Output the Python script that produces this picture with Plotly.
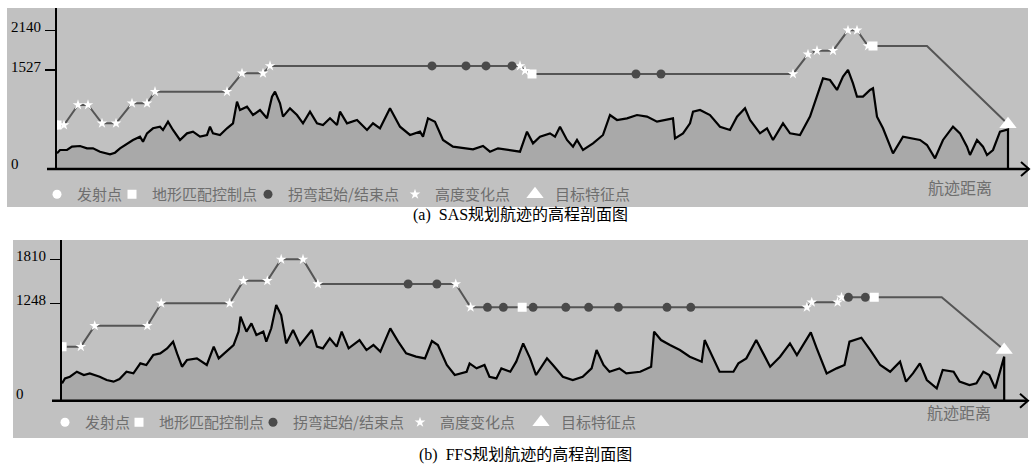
import plotly.graph_objects as go

W, H = 1033, 468

# ---------------- Panel (a): SAS ----------------
terrain_a_d = [0.0, 0.3, 1.0, 1.5, 2.3, 3.0, 3.6, 4.3, 5.3, 5.8, 6.3, 7.0, 7.6, 8.3, 8.6, 9.0, 9.6, 10.3, 10.6, 11.1,
               11.6, 12.3, 13.0, 13.6, 14.3, 15.0, 15.3, 15.6, 16.3, 17.0, 17.6, 18.0, 18.3, 19.0, 19.6, 20.3, 21.0,
               21.5, 21.8, 22.3, 22.6, 23.3, 24.0, 24.6, 25.3, 26.0, 26.6, 27.3, 28.0, 28.3, 29.0, 30.0, 31.0, 31.6,
               32.3, 33.3, 34.3, 35.3, 36.3, 36.6, 37.1, 37.8, 38.6, 39.6, 40.6, 41.6, 42.6, 43.3, 44.1, 45.0, 46.3,
               47.0, 47.6, 48.3, 49.3, 49.8, 50.3, 51.0, 51.6, 52.0, 52.6, 53.6, 54.6, 55.3, 56.0, 57.0, 58.0, 59.0,
               60.0, 61.6, 61.8, 62.6, 63.3, 63.6, 64.3, 65.3, 66.3, 67.3, 68.0, 68.8, 69.3, 70.3, 71.0, 71.6, 72.6,
               73.3, 74.3, 75.3, 76.0, 76.6, 77.3, 78.0, 78.6, 79.1, 79.6, 80.0, 80.6, 81.3, 81.6, 82.0, 82.6, 83.6,
               84.6, 85.6, 86.3, 87.0, 87.8, 88.6, 89.6, 90.3, 91.0, 91.3, 92.0, 92.6, 93.0, 93.6, 94.3, 95.1, 95.1]
terrain_a_e = [242, 293, 293, 345, 355, 319, 319, 267, 226, 252, 319, 396, 448, 499, 422, 550, 628, 653, 602, 730,
               602, 448, 550, 576, 499, 525, 653, 550, 525, 628, 705, 1039, 910, 962, 833, 910, 782,
               1116, 1193, 1013, 808, 936, 833, 705, 885, 705, 679, 782, 679, 885, 705, 756, 602, 705,
               628, 936, 653, 525, 576, 499, 782, 730, 448, 345, 319, 303, 355, 267, 319, 293, 267,
               576, 396, 499, 550, 499, 653, 448, 345, 448, 293, 396, 525, 833, 756, 782, 833, 808,
               730, 782, 473, 550, 705, 885, 910, 833, 653, 602, 808, 936, 756, 550, 628, 448, 705,
               550, 525, 808, 1116, 1399, 1373, 1219, 1425, 1528, 1322, 1116, 1116, 1219, 1245, 808, 628, 242,
               499, 473, 448, 370, 165, 448, 653, 550, 345, 216, 448, 345, 216, 293, 576, 610, 0]

path_a_d = [0.0, 0.7, 2.1, 3.1, 4.5, 5.9, 7.5, 9.0, 9.8, 17.0, 18.5, 20.6, 21.3, 46.3, 46.8, 47.5, 73.6, 75.1,
            76.0, 77.6, 79.1, 80.0, 81.1, 87.0, 95.1]
path_a_e = [679, 679, 988, 988, 705, 705, 1013, 1013, 1193, 1193, 1476, 1476, 1590, 1590, 1517, 1466, 1466, 1770,
            1826, 1826, 2140, 2140, 1898, 1898, 690]

launch_a_d, launch_a_e = [0.0], [679]
ctrl_a_d, ctrl_a_e = [0.0, 47.5, 81.6], [679, 1466, 1898]
turn_a_d = [37.5, 40.9, 42.9, 45.5, 57.9, 60.4]
turn_a_e = [1590, 1590, 1590, 1590, 1466, 1466]
alt_a_d = [0.7, 2.1, 3.1, 4.5, 5.9, 7.5, 9.0, 9.8, 17.0, 18.5, 20.6, 21.3, 46.3, 46.8, 73.6, 75.1, 76.0, 77.6,
           79.1, 80.0, 81.1]
alt_a_e = [679, 988, 988, 705, 705, 1013, 1013, 1193, 1193, 1476, 1476, 1590, 1590, 1517, 1466, 1770, 1826, 1826,
           2140, 2140, 1898]
target_a_d, target_a_e = [95.1], [690]
ticks_a = [0, 1527, 2140]

# ---------------- Panel (b): FFS ----------------
terrain_b_d = [0.0, 0.3, 0.8, 1.5, 2.2, 2.8, 3.8, 4.5, 5.2, 5.8, 6.5, 7.2, 7.9, 8.5, 9.2, 9.9, 10.6, 11.2, 11.6,
               12.1, 12.6, 13.6, 14.6, 15.3, 15.8, 16.6, 17.3, 17.8, 18.0, 18.6, 19.1, 19.6, 20.3, 20.6, 21.1, 21.6,
               22.1, 22.6, 23.3, 24.0, 24.5, 25.2, 25.7, 26.3, 27.0, 27.7, 28.2, 28.9, 30.0, 30.7, 31.4, 32.1, 33.1,
               33.9, 34.7, 35.7, 36.6, 37.3, 37.9, 38.8, 39.6, 40.8, 41.1, 41.8, 42.6, 43.1, 43.8, 44.3, 45.2, 45.8,
               46.5, 47.2, 47.8, 48.9, 49.5, 50.5, 51.5, 52.5, 53.4, 53.9, 54.6, 55.2, 56.2, 56.9, 58.3, 59.4, 59.7,
               60.4, 61.3, 62.3, 63.3, 64.0, 64.5, 64.8, 65.5, 66.3, 67.7, 68.2, 69.0, 70.0, 70.7, 71.4, 72.4, 73.4,
               74.1, 74.7, 75.5, 76.1, 77.1, 78.1, 78.9, 79.4, 80.6, 81.5, 82.5, 83.5, 84.5, 85.1, 85.8, 86.5, 87.2,
               88.2, 88.8, 89.9, 90.5, 91.5, 92.2, 92.9, 93.5, 94.1, 94.6, 95.0, 95.0]
terrain_b_e = [222, 286, 307, 371, 329, 350, 307, 265, 244, 278, 371, 350, 478, 457, 585, 606, 670, 756, 606,
               435, 521, 542, 457, 692, 542, 628, 713, 884, 1076, 884, 990, 841, 884, 756, 927, 1225,
               1097, 734, 905, 713, 798, 905, 692, 670, 798, 692, 884, 670, 777, 649, 713, 628, 926,
               756, 606, 564, 542, 764, 713, 457, 329, 371, 478, 414, 457, 307, 286, 414, 371, 500,
               734, 542, 329, 542, 457, 307, 265, 307, 414, 649, 457, 371, 414, 350, 371, 435, 884,
               777, 713, 649, 564, 521, 500, 777, 585, 371, 371, 478, 542, 777, 606, 435, 564, 734,
               585, 713, 875, 670, 350, 414, 457, 756, 807, 649, 457, 371, 500, 244, 350, 478, 265,
               158, 393, 371, 244, 201, 222, 371, 329, 158, 371, 564, 0]

path_b_d = [0.0, 1.9, 3.3, 8.6, 10.0, 16.9, 18.3, 20.7, 22.1, 24.3, 25.8, 39.7, 41.2, 75.1, 75.6, 78.2, 78.6,
            88.7, 95.0]
path_b_e = [692, 692, 960, 960, 1248, 1248, 1536, 1536, 1810, 1810, 1494, 1494, 1196, 1196, 1260, 1260, 1324,
            1324, 650]

launch_b_d, launch_b_e = [0.0], [692]
ctrl_b_d, ctrl_b_e = [0.0, 46.4, 81.9], [692, 1196, 1324]
turn_b_d = [34.9, 37.8, 42.9, 44.5, 47.5, 50.8, 53.1, 56.1, 61.0, 63.4, 79.3, 81.0]
turn_b_e = [1494, 1494, 1196, 1196, 1196, 1196, 1196, 1196, 1196, 1196, 1324, 1324]
alt_b_d = [1.9, 3.3, 8.6, 10.0, 16.9, 18.3, 20.7, 22.1, 24.3, 25.8, 39.7, 41.2, 75.1, 75.6, 78.2, 78.6]
alt_b_e = [692, 960, 960, 1248, 1248, 1536, 1536, 1810, 1810, 1494, 1494, 1196, 1196, 1260, 1260, 1324]
target_b_d, target_b_e = [95.0], [650]
ticks_b = [0, 1248, 1810]

legend_names = ["发射点", "地形匹配控制点", "拐弯起始/结束点", "高度变化点", "目标特征点"]
captions = ["(a)  SAS规划航迹的高程剖面图", "(b)  FFS规划航迹的高程剖面图"]
xlabel = "航迹距离"

# ---------------- styling ----------------
BG = "#c1c1c1"
FILL = "#a9a9a9"
PATH = "#555555"
DOT = "#4a4a4a"
LEG_TXT = "#6e6e6e"
CJK = "Noto Sans CJK SC"
SERIF = "Liberation Serif, Noto Sans CJK SC"


def px(x):
    return x / W


def py(y):
    return 1 - y / H


fig = go.Figure()


def add_panel(xa, ya, leg, t_d, t_e, p_d, p_e, l_d, l_e, c_d, c_e, tu_d, tu_e, al_d, al_e, tg_d, tg_e, widths):
    fig.add_trace(go.Scatter(x=t_d, y=t_e, mode="lines", fill="tozeroy", fillcolor=FILL,
                             line=dict(color="black", width=2.2), showlegend=False, hoverinfo="skip",
                             xaxis=xa, yaxis=ya))
    fig.add_trace(go.Scatter(x=p_d, y=p_e, mode="lines", line=dict(color=PATH, width=2),
                             showlegend=False, xaxis=xa, yaxis=ya))
    fig.add_trace(go.Scatter(x=al_d, y=al_e, mode="markers", name=legend_names[3], legend=leg, legendrank=4,
                             legendwidth=widths[3],
                             marker=dict(symbol="star", size=8, color="white", line=dict(width=0)),
                             xaxis=xa, yaxis=ya))
    fig.add_trace(go.Scatter(x=tu_d, y=tu_e, mode="markers", name=legend_names[2], legend=leg, legendrank=3,
                             legendwidth=widths[2],
                             marker=dict(symbol="circle", size=9, color=DOT, line=dict(width=0)),
                             xaxis=xa, yaxis=ya))
    fig.add_trace(go.Scatter(x=c_d, y=c_e, mode="markers", name=legend_names[1], legend=leg, legendrank=2,
                             legendwidth=widths[1],
                             marker=dict(symbol="square", size=9, color="white", line=dict(width=0)),
                             xaxis=xa, yaxis=ya))
    fig.add_trace(go.Scatter(x=l_d, y=l_e, mode="markers", name=legend_names[0], legend=leg, legendrank=1,
                             legendwidth=widths[0],
                             marker=dict(symbol="circle", size=9, color="white", line=dict(width=0)),
                             xaxis=xa, yaxis=ya))
    fig.add_trace(go.Scatter(x=tg_d, y=tg_e, mode="markers", name=legend_names[4], legend=leg, legendrank=5,
                             marker=dict(symbol="triangle-up", size=15, color="white", line=dict(width=0)),
                             xaxis=xa, yaxis=ya))


add_panel("x", "y", "legend", terrain_a_d, terrain_a_e, path_a_d, path_a_e, launch_a_d, launch_a_e,
          ctrl_a_d, ctrl_a_e, turn_a_d, turn_a_e, alt_a_d, alt_a_e, target_a_d, target_a_e, [30, 91, 102, 75])
add_panel("x2", "y2", "legend2", terrain_b_d, terrain_b_e, path_b_d, path_b_e, launch_b_d, launch_b_e,
          ctrl_b_d, ctrl_b_e, turn_b_d, turn_b_e, alt_b_d, alt_b_e, target_b_d, target_b_e, [29, 89, 102, 76])

axis_common = dict(showgrid=False, zeroline=False, fixedrange=True)
yaxis_common = dict(showgrid=False, zeroline=False, showline=True, linecolor="black", linewidth=2.5,
                    ticks="outside", ticklen=10, tickwidth=1.5, tickcolor="black", showticklabels=False,
                    fixedrange=True)

fig.update_layout(
    width=W, height=H,
    margin=dict(l=0, r=0, t=0, b=0),
    paper_bgcolor="white", plot_bgcolor="rgba(0,0,0,0)",
    xaxis=dict(domain=[px(57), px(1027)], range=[0, 97.0], visible=False, anchor="y", **axis_common),
    yaxis=dict(domain=[py(169), py(8)], range=[0, 2484], anchor="x",
               tickvals=ticks_a[1:], **yaxis_common),
    xaxis2=dict(domain=[px(62), px(1027)], range=[0, 97.3], visible=False, anchor="y2", **axis_common),
    yaxis2=dict(domain=[py(400.7), py(240)], range=[0, 2058], anchor="x2",
                tickvals=ticks_b[1:], **yaxis_common),
    legend=dict(orientation="h", x=px(37), y=py(178), xanchor="left", yanchor="top",
                bgcolor="rgba(0,0,0,0)", font=dict(family=CJK, size=15, color=LEG_TXT),
                itemwidth=30, traceorder="normal"),
    legend2=dict(orientation="h", x=px(45), y=py(406), xanchor="left", yanchor="top",
                 bgcolor="rgba(0,0,0,0)", font=dict(family=CJK, size=15, color=LEG_TXT),
                 itemwidth=30, traceorder="normal"),
    showlegend=True,
    hovermode=False,
)

shapes = [
    dict(type="rect", xref="paper", yref="paper", x0=px(7), x1=px(1028), y0=py(207), y1=py(8),
         fillcolor=BG, line=dict(width=0), layer="below"),
    dict(type="rect", xref="paper", yref="paper", x0=px(13), x1=px(1028), y0=py(438), y1=py(240),
         fillcolor=BG, line=dict(width=0), layer="below"),
    dict(type="line", xref="paper", yref="paper", x0=px(47), x1=px(1028), y0=py(169), y1=py(169),
         line=dict(color="black", width=2.5), layer="above"),
    dict(type="path", xref="paper", yref="paper",
         path=f"M {px(1021)} {py(162)} L {px(1029)} {py(169)} L {px(1021)} {py(176)}",
         line=dict(color="black", width=2), layer="above"),
    dict(type="line", xref="paper", yref="paper", x0=px(52), x1=px(1027), y0=py(400.7), y1=py(400.7),
         line=dict(color="black", width=2.5), layer="above"),
    dict(type="path", xref="paper", yref="paper",
         path=f"M {px(1020)} {py(393.7)} L {px(1028)} {py(400.7)} L {px(1020)} {py(407.7)}",
         line=dict(color="black", width=2), layer="above"),
]
fig.update_layout(shapes=shapes)

annotations = []
for v in ticks_a:
    annotations.append(dict(xref="paper", yref="y", x=px(9), y=v, text=str(v), showarrow=False,
                            xanchor="left", yanchor="middle", yshift=3 if v else 5,
                            font=dict(family="Liberation Serif", size=15, color="black")))
for v in ticks_b:
    annotations.append(dict(xref="paper", yref="y2", x=px(14), y=v, text=str(v), showarrow=False,
                            xanchor="left", yanchor="middle", yshift=3 if v else 7,
                            font=dict(family="Liberation Serif", size=15, color="black")))
annotations.append(dict(xref="paper", yref="paper", x=px(960), y=py(187), text=xlabel, showarrow=False,
                        xanchor="center", yanchor="middle", font=dict(family=CJK, size=16, color=LEG_TXT)))
annotations.append(dict(xref="paper", yref="paper", x=px(959), y=py(412), text=xlabel, showarrow=False,
                        xanchor="center", yanchor="middle", font=dict(family=CJK, size=16, color=LEG_TXT)))
annotations.append(dict(xref="paper", yref="paper", x=px(520), y=py(215), text=captions[0], showarrow=False,
                        xanchor="center", yanchor="middle", font=dict(family=SERIF, size=16, color="black")))
annotations.append(dict(xref="paper", yref="paper", x=px(525), y=py(455), text=captions[1], showarrow=False,
                        xanchor="center", yanchor="middle", font=dict(family=SERIF, size=16, color="black")))
fig.update_layout(annotations=annotations)

fig.write_html("out.html", config={"displayModeBar": False, "staticPlot": True},
               post_script="document.body.style.margin='0';document.body.style.overflow='hidden';")
